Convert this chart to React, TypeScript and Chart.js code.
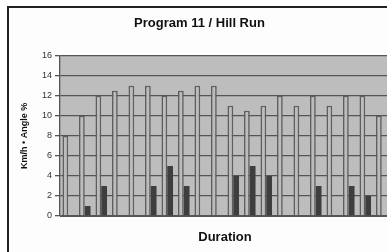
import React, { useEffect, useRef } from "react";
import { Chart, registerables } from "chart.js";

Chart.register(...registerables);

const categories = ["1", "2", "3", "4", "5", "6", "7", "8", "9", "10", "11", "12", "13", "14", "15", "16", "17", "18", "19", "20"];
const speedKmh = [8, 10, 12, 12.5, 13, 13, 12, 12.5, 13, 13, 11, 10.5, 11, 12, 11, 12, 11, 12, 12, 10];
const anglePct = [0, 1, 3, 0, 0, 3, 5, 3, 0, 0, 4, 5, 4, 0, 0, 3, 0, 3, 2, 0];
const yTicks = [0, 2, 4, 6, 8, 10, 12, 14, 16];

const FONT = "'Liberation Sans', Arial, sans-serif";

const plotBg = {
  id: "plotBg",
  beforeDraw(chart: any) {
    const { ctx, chartArea } = chart;
    if (!chartArea) return;
    ctx.save();
    ctx.fillStyle = "#bdbdbd";
    ctx.fillRect(chartArea.left, chartArea.top, chartArea.right - chartArea.left, chartArea.bottom - chartArea.top);
    ctx.restore();
  },
};

export default function App() {
  const ref = useRef<HTMLCanvasElement | null>(null);

  useEffect(() => {
    if (!ref.current) return;
    const chart = new Chart(ref.current, {
      type: "bar",
      data: {
        labels: categories,
        datasets: [
          {
            label: "Km/h",
            data: speedKmh,
            backgroundColor: "#bcbcbc",
            borderColor: "#5e5e5e",
            borderWidth: 1.6,
            categoryPercentage: 0.7,
            barPercentage: 1.0,
          },
          {
            label: "Angle %",
            data: anglePct,
            backgroundColor: "#3e3e3e",
            borderColor: "#333333",
            borderWidth: 0,
            categoryPercentage: 0.7,
            barPercentage: 1.0,
          },
        ],
      },
      plugins: [plotBg],
      options: {
        animation: false,
        responsive: false,
        maintainAspectRatio: false,
        layout: { padding: { left: 0, right: 5, top: 0, bottom: 0 } },
        plugins: {
          legend: { display: false },
          tooltip: { enabled: false },
          title: {
            display: true,
            text: "Program 11 / Hill Run",
            color: "#111111",
            font: { family: FONT, size: 13, weight: "bold" },
            padding: { top: 8, bottom: 24 },
          },
        },
        scales: {
          x: {
            grid: { display: false },
            border: { display: true, color: "#555555", width: 1 },
            ticks: { display: false },
            title: {
              display: true,
              text: "Duration",
              color: "#111111",
              font: { family: FONT, size: 13, weight: "bold" },
              padding: { top: 0, bottom: 7 },
            },
            afterFit(scale: any) {
              scale.height = 36;
            },
          },
          y: {
            min: 0,
            max: 16,
            z: 1,
            afterBuildTicks(scale: any) {
              scale.ticks = yTicks.map((v) => ({ value: v }));
            },
            grid: { color: "#555555", lineWidth: 1.3, tickLength: 5 },
            border: { display: true, color: "#555555", width: 1.3 },
            ticks: {
              color: "#333333",
              padding: 3,
              font: { family: FONT, size: 9 },
            },
            title: {
              display: true,
              text: "Km/h • Angle %",
              color: "#111111",
              font: { family: FONT, size: 9, weight: "bold" },
              padding: { top: 10, bottom: 0 },
            },
            afterFit(scale: any) {
              scale.width = 51;
            },
          },
        },
      },
    });
    return () => chart.destroy();
  }, []);

  return (
    <div
      style={{
        position: "fixed",
        left: 0,
        top: 0,
        width: 387,
        height: 252,
        overflow: "hidden",
        background: "#ffffff",
      }}
    >
      <div
        style={{
          position: "absolute",
          left: 7,
          top: 6,
          width: 420,
          height: 280,
          borderLeft: "2px solid #222222",
          borderTop: "2px solid #222222",
          background: "#fdfdfd",
        }}
      />
      <canvas
        ref={ref}
        width={386}
        height={244}
        style={{ position: "absolute", left: 9, top: 8, width: 386, height: 244 }}
      />
    </div>
  );
}
